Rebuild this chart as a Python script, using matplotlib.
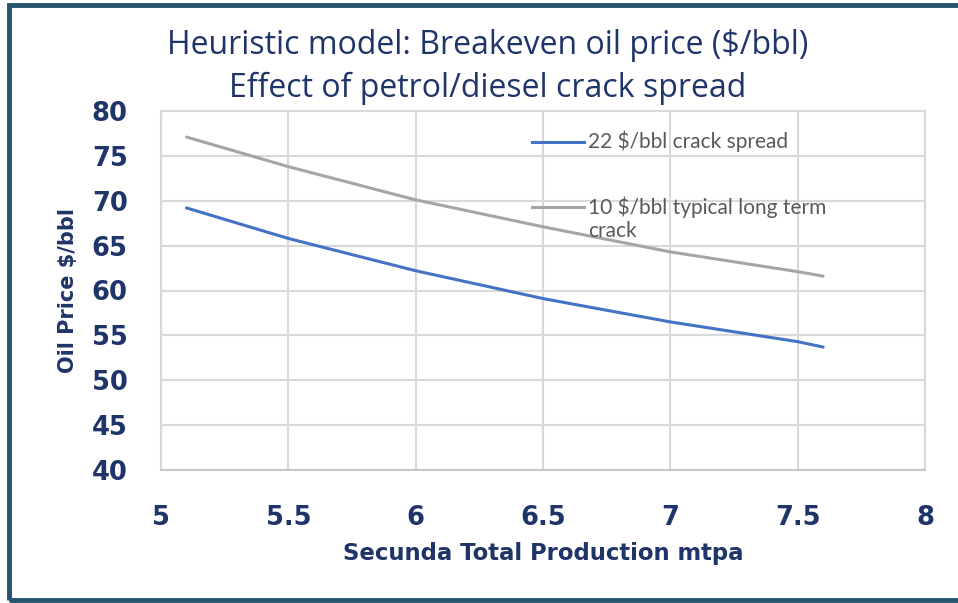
import matplotlib
matplotlib.use("Agg")
import matplotlib.pyplot as plt
from matplotlib.patches import Rectangle

# values
production = [5.1, 5.5, 6.0, 6.5, 7.0, 7.5, 7.6]
price_crack22 = [69.2, 65.8, 62.2, 59.1, 56.5, 54.3, 53.7]
price_crack10 = [77.1, 73.8, 70.1, 67.1, 64.3, 62.1, 61.6]

series_labels = ["22 $/bbl crack spread", "10 $/bbl typical long term\ncrack"]
series_colors = ["#4472C4", "#A5A5A5"]

x_ticks = [5, 5.5, 6, 6.5, 7, 7.5, 8]
x_tick_labels = ["5", "5.5", "6", "6.5", "7", "7.5", "8"]
y_ticks = [40, 45, 50, 55, 60, 65, 70, 75, 80]

title = "Heuristic model: Breakeven oil price ($/bbl)\nEffect of petrol/diesel crack spread"
x_label = "Secunda Total Production mtpa"
y_label = "Oil Price $/bbl"

navy = "#1F3468"
grid_col = "#D9D9D9"

fig = plt.figure(figsize=(9.58, 6.03), dpi=100)
ax = fig.add_axes([161 / 958, 1 - 470 / 603, 764 / 958, 359 / 603])

ax.plot(production, price_crack22, color=series_colors[0], lw=2.2, solid_capstyle="round")
ax.plot(production, price_crack10, color=series_colors[1], lw=2.2, solid_capstyle="round")

ax.set_xlim(5, 8)
ax.set_ylim(40, 80)
ax.set_xticks(x_ticks)
ax.set_xticklabels(x_tick_labels)
ax.set_yticks(y_ticks)
ax.grid(True, color=grid_col, lw=1.5)
ax.set_axisbelow(True)
for s in ax.spines.values():
    s.set_color(grid_col)
    s.set_linewidth(1.5)
ax.spines["bottom"].set_color("#C8C8C8")

ax.tick_params(length=0, labelcolor=navy)
ax.tick_params(axis="y", pad=24)
ax.tick_params(axis="x", pad=25)
for lbl in ax.get_xticklabels() + ax.get_yticklabels():
    lbl.set_fontfamily("DejaVu Sans")
    lbl.set_fontweight("bold")
    lbl.set_fontsize(18.5)

ax.set_xlabel(x_label, fontsize=16.4, fontweight="bold", color=navy, family="DejaVu Sans")
ax.xaxis.set_label_coords(0.5, -0.20)
ax.set_ylabel(y_label, fontsize=15, fontweight="bold", color=navy, family="DejaVu Sans")
ax.yaxis.set_label_coords(-0.108, 0.5)

# legend drawn inside the plot area, handle level with the first text line
# (va="baseline" on multi-line text pins the last line)
legend_y = [0.9145, 0.7326]
text_base = [0.896, 0.650]
for lab, col, yy, yb in zip(series_labels, series_colors, legend_y, text_base):
    ax.plot([0.4853, 0.5537], [yy, yy], color=col, lw=2.2, transform=ax.transAxes)
    ax.text(0.5593, yb, lab, transform=ax.transAxes, va="baseline", ha="left",
            fontsize=15, color="#595959", family="Lato", linespacing=1.15)

fig.text(488 / 958, 1 - 67 / 603, title, ha="center", va="center", fontsize=23,
         color=navy, family="Open Sans", linespacing=1.35)

# outer frame
fig.patches.append(Rectangle((9 / 958, 3 / 603), 1.2, 595 / 603, transform=fig.transFigure,
                             fill=False, edgecolor="#24546E", lw=3.5))

fig.savefig("out.png", dpi=100)
